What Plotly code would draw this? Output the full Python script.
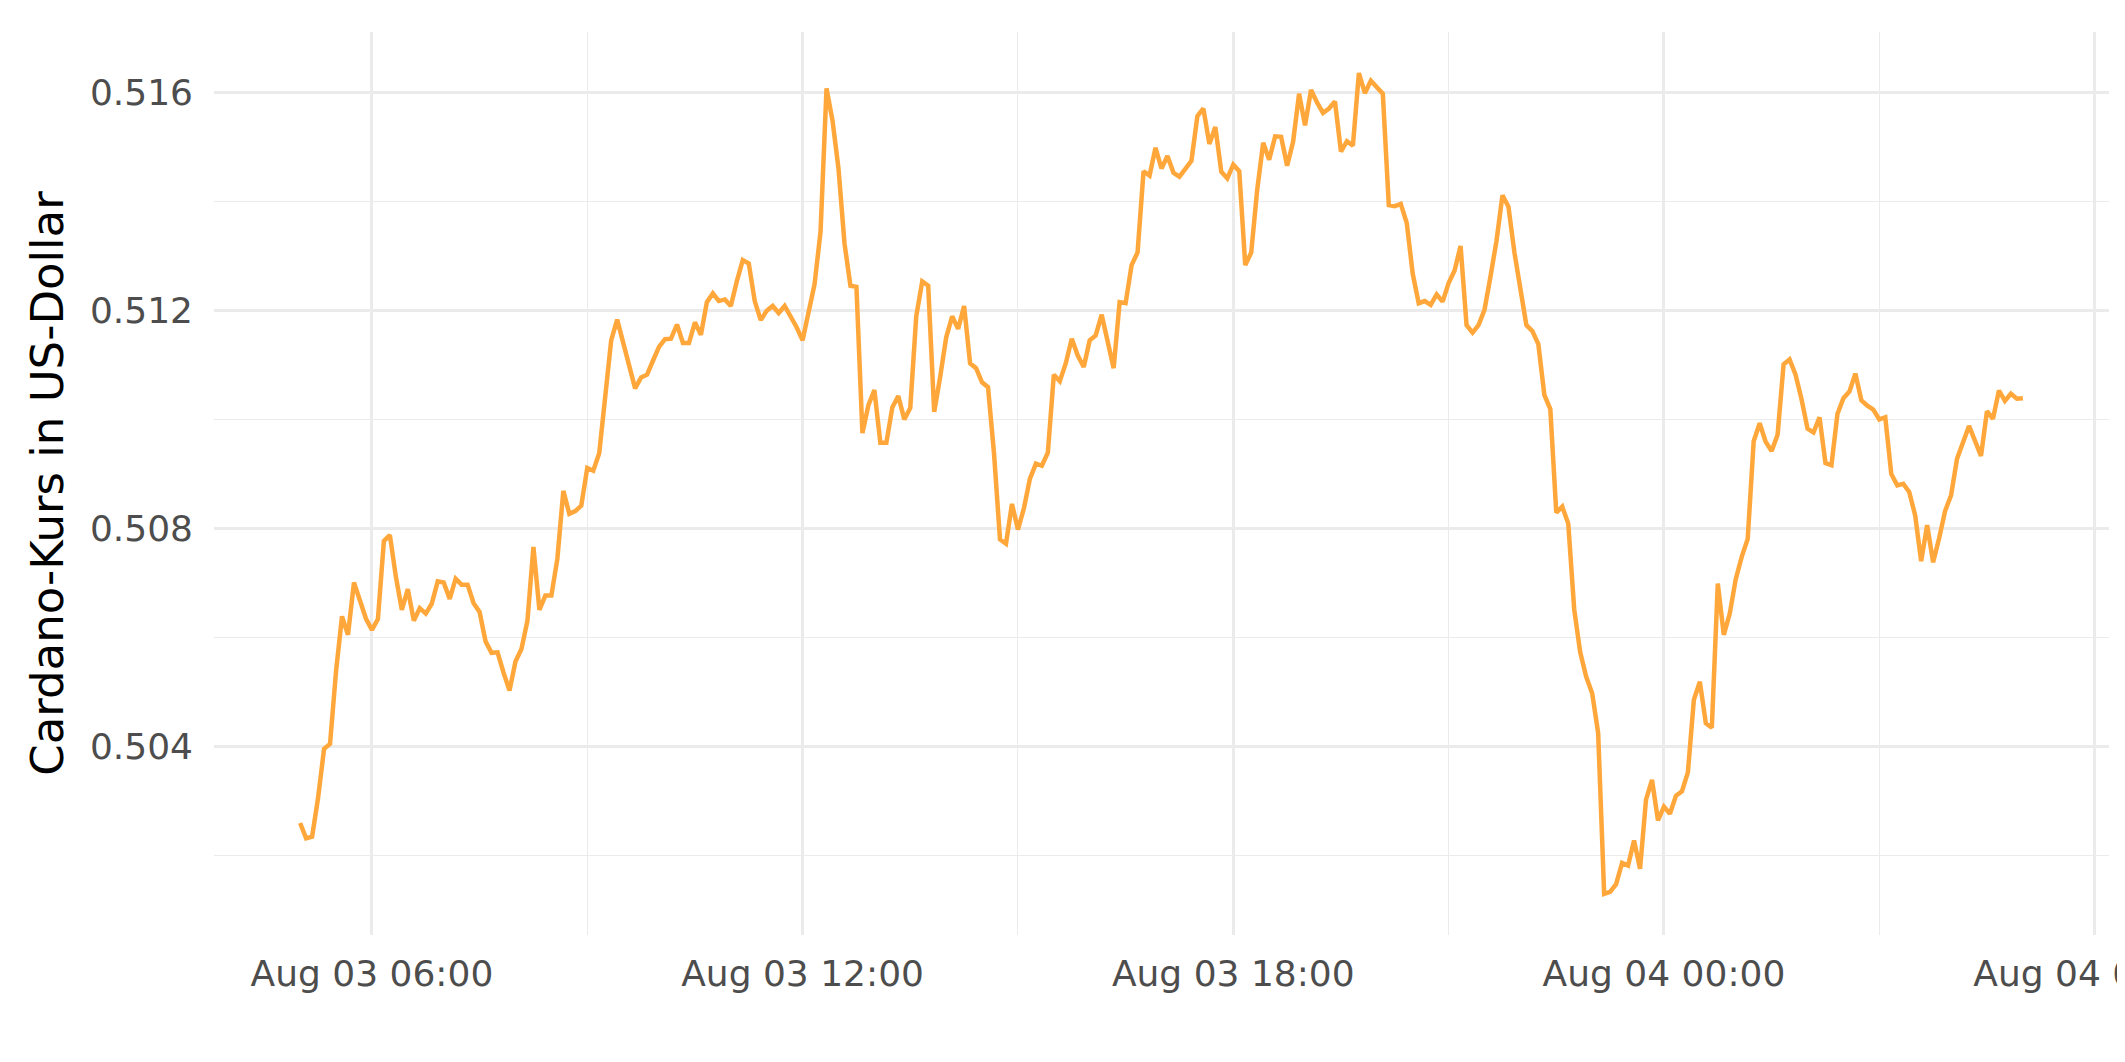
import pandas as pd
import plotly.graph_objects as go

minutes = [
    300, 305, 310, 315, 320, 325, 330, 335, 340, 345,
    350, 355, 360, 365, 370, 375, 380, 385, 390, 395,
    400, 405, 410, 415, 420, 425, 430, 435, 440, 445,
    450, 455, 460, 465, 470, 475, 480, 485, 490, 495,
    500, 505, 510, 515, 520, 525, 530, 535, 540, 545,
    550, 560, 565, 570, 575, 580, 585, 590, 595, 600,
    605, 610, 615, 620, 625, 630, 635, 640, 645, 650,
    655, 660, 665, 670, 675, 680, 685, 690, 695, 700,
    705, 710, 715, 720, 725, 730, 735, 740, 745, 750,
    755, 760, 765, 770, 775, 780, 785, 790, 795, 800,
    805, 810, 815, 820, 825, 830, 835, 840, 845, 850,
    855, 860, 865, 870, 875, 880, 885, 890, 895, 900,
    905, 910, 915, 920, 925, 930, 935, 940, 945, 950,
    955, 960, 965, 970, 975, 980, 985, 990, 995, 1000,
    1005, 1010, 1015, 1020, 1025, 1030, 1035, 1040, 1045, 1050,
    1055, 1060, 1065, 1070, 1075, 1080, 1085, 1090, 1095, 1100,
    1105, 1110, 1115, 1120, 1125, 1130, 1135, 1140, 1145, 1150,
    1155, 1160, 1165, 1170, 1175, 1180, 1185, 1190, 1195, 1205,
    1210, 1215, 1220, 1225, 1230, 1235, 1240, 1245, 1250, 1255,
    1260, 1265, 1270, 1275, 1280, 1285, 1290, 1295, 1300, 1305,
    1310, 1315, 1320, 1325, 1330, 1335, 1340, 1345, 1350, 1355,
    1360, 1365, 1370, 1375, 1380, 1385, 1390, 1395, 1400, 1405,
    1410, 1415, 1420, 1425, 1430, 1435, 1440, 1445, 1450, 1455,
    1460, 1465, 1470, 1475, 1480, 1485, 1490, 1495, 1500, 1505,
    1510, 1515, 1520, 1525, 1530, 1535, 1540, 1545, 1550, 1555,
    1560, 1565, 1570, 1575, 1580, 1585, 1590, 1595, 1600, 1605,
    1610, 1615, 1620, 1625, 1630, 1635, 1640, 1645, 1650, 1655,
    1660, 1665, 1670, 1675, 1680, 1685, 1695, 1705, 1710, 1715,
    1720, 1725, 1730, 1735, 1740,
]

price_usd = [
    0.50260, 0.50232, 0.50235, 0.50306, 0.50396, 0.50405, 0.50538, 0.50639, 0.50605, 0.50701,
    0.50668, 0.50635, 0.50614, 0.50634, 0.50777, 0.50788, 0.50712, 0.50651, 0.50689, 0.50631,
    0.50654, 0.50644, 0.50662, 0.50703, 0.50701, 0.50671, 0.50708, 0.50697, 0.50697, 0.50663,
    0.50647, 0.50593, 0.50572, 0.50573, 0.50536, 0.50503, 0.50556, 0.50579, 0.50631, 0.50766,
    0.50651, 0.50677, 0.50677, 0.50744, 0.50869, 0.50827, 0.50832, 0.50842, 0.50911, 0.50906,
    0.50938, 0.51145, 0.51183, 0.51141, 0.51099, 0.51057, 0.51077, 0.51082, 0.51108, 0.51133,
    0.51147, 0.51148, 0.51174, 0.51140, 0.51140, 0.51178, 0.51155, 0.51215, 0.51231, 0.51217,
    0.51220, 0.51208, 0.51253, 0.51292, 0.51286, 0.51217, 0.51182, 0.51199, 0.51208, 0.51195,
    0.51208, 0.51189, 0.51169, 0.51145, 0.51197, 0.51248, 0.51344, 0.51607, 0.51548, 0.51460,
    0.51323, 0.51245, 0.51243, 0.50975, 0.51026, 0.51054, 0.50957, 0.50957, 0.51022, 0.51043,
    0.51000, 0.51021, 0.51189, 0.51253, 0.51245, 0.51014, 0.51078, 0.51150, 0.51189, 0.51166,
    0.51208, 0.51103, 0.51094, 0.51068, 0.51059, 0.50938, 0.50780, 0.50772, 0.50845, 0.50798,
    0.50837, 0.50891, 0.50919, 0.50915, 0.50939, 0.51082, 0.51070, 0.51103, 0.51148, 0.51117,
    0.51096, 0.51145, 0.51154, 0.51192, 0.51143, 0.51094, 0.51215, 0.51213, 0.51283, 0.51306,
    0.51455, 0.51447, 0.51498, 0.51460, 0.51483, 0.51452, 0.51445, 0.51460, 0.51474, 0.51556,
    0.51570, 0.51505, 0.51536, 0.51454, 0.51442, 0.51467, 0.51455, 0.51283, 0.51306, 0.51421,
    0.51507, 0.51476, 0.51519, 0.51518, 0.51465, 0.51509, 0.51597, 0.51539, 0.51604, 0.51581,
    0.51562, 0.51570, 0.51583, 0.51491, 0.51510, 0.51502, 0.51635, 0.51598, 0.51621, 0.51597,
    0.51393, 0.51391, 0.51395, 0.51360, 0.51267, 0.51213, 0.51217, 0.51210, 0.51229, 0.51216,
    0.51250, 0.51273, 0.51318, 0.51173, 0.51159, 0.51173, 0.51201, 0.51262, 0.51327, 0.51411,
    0.51390, 0.51306, 0.51245, 0.51173, 0.51162, 0.51138, 0.51045, 0.51019, 0.50829, 0.50840,
    0.50809, 0.50651, 0.50573, 0.50528, 0.50498, 0.50425, 0.50130, 0.50134, 0.50148, 0.50187,
    0.50182, 0.50228, 0.50176, 0.50303, 0.50339, 0.50265, 0.50290, 0.50277, 0.50310, 0.50318,
    0.50353, 0.50486, 0.50519, 0.50443, 0.50435, 0.50699, 0.50605, 0.50644, 0.50707, 0.50748,
    0.50781, 0.50960, 0.50993, 0.50959, 0.50942, 0.50972, 0.51101, 0.51110, 0.51082, 0.51037,
    0.50983, 0.50976, 0.51004, 0.50920, 0.50916, 0.51010, 0.51039, 0.51051, 0.51084, 0.51035,
    0.51025, 0.51018, 0.51000, 0.51004, 0.50900, 0.50879, 0.50882, 0.50867, 0.50824, 0.50740,
    0.50806, 0.50738, 0.50782, 0.50832, 0.50861, 0.50928, 0.50988, 0.50933, 0.51015, 0.51001,
    0.51053, 0.51034, 0.51047, 0.51038, 0.51039,
]

assert len(minutes) == len(price_usd), (len(minutes), len(price_usd))

y_title = "Cardano-Kurs in US-Dollar"
x_tick_format = "%b %d %H:%M"
start_day = pd.Timestamp("2022-08-03 00:00")

times = [start_day + pd.Timedelta(minutes=m) for m in minutes]

# ggplot-style 5% expansion of the data range
t0, t1 = min(times), max(times)
dt = (t1 - t0) * 0.05
x_range = [(t0 - dt).isoformat(), (t1 + dt).isoformat()]
v0, v1 = min(price_usd), max(price_usd)
dv = (v1 - v0) * 0.05
y_range = [v0 - dv, v1 + dv]

grid = "#EBEBEB"
tick_col = "#4D4D4D"
FONT = "DejaVu Sans"

fig = go.Figure(
    go.Scatter(
        x=[t.isoformat() for t in times],
        y=price_usd,
        mode="lines",
        line=dict(color="#FFA73A", width=4.5),
        hoverinfo="skip",
    )
)

fig.update_layout(
    width=2125,
    height=1062,
    margin=dict(l=206, r=24, t=24, b=135, pad=0),
    paper_bgcolor="white",
    plot_bgcolor="white",
    showlegend=False,
    font=dict(family=FONT, color=tick_col),
)

fig.update_xaxes(
    type="date",
    range=x_range,
    tick0=start_day.isoformat(),
    dtick=6 * 3600 * 1000,
    tickformat=x_tick_format,
    showgrid=True,
    gridcolor=grid,
    gridwidth=2.7,
    minor=dict(dtick=3 * 3600 * 1000, showgrid=True, gridcolor=grid, gridwidth=1.4),
    zeroline=False,
    showline=False,
    ticks="",
    tickfont=dict(family=FONT, size=36, color=tick_col),
    ticklabeloverflow="allow",
    ticklabelstandoff=14,
    automargin=False,
)

fig.update_yaxes(
    range=y_range,
    tick0=0,
    dtick=0.004,
    tickformat=".3f",
    showgrid=True,
    gridcolor=grid,
    gridwidth=2.7,
    minor=dict(dtick=0.002, showgrid=True, gridcolor=grid, gridwidth=1.4),
    zeroline=False,
    showline=False,
    ticks="",
    tickfont=dict(family=FONT, size=36, color=tick_col),
    ticklabelstandoff=20,
    title=dict(text=y_title, font=dict(family=FONT, size=45, color="black"), standoff=12),
    automargin=False,
)

fig.write_html("out.html")
